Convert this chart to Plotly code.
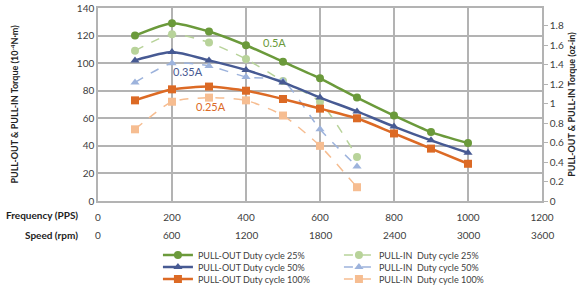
import plotly.graph_objects as go

freq_out = [100, 200, 300, 400, 500, 600, 700, 800, 900, 1000]
freq_in = [100, 200, 300, 400, 500, 600, 700]

pullout_25 = [120, 129, 123, 113, 101, 89, 75, 62, 50, 42]
pullout_50 = [102, 108, 102, 95, 86, 75, 65, 54, 44, 35]
pullout_100 = [73, 81, 83, 80, 74, 67, 60, 49, 38, 27]

pullin_25 = [109, 121, 115, 103, 87, 72, 32]
pullin_50 = [86, 100, 98, 90, 87, 52, 25]
pullin_100 = [52, 72, 75, 73, 62, 40, 10]

freq_ticks = [0, 200, 400, 600, 800, 1000, 1200]
speed_ticks = [0, 600, 1200, 1800, 2400, 3000, 3600]

label_text = ["0.5A", "0.35A", "0.25A"]
label_x = [478, 242, 306]
label_y = [115, 94, 68.5]

NM_TO_OZIN = 141.6119  # oz-in per N·m

C_G, C_LG = "#6b9a3b", "#b8d39a"
C_B, C_LB = "#475a93", "#9db3dc"
C_O, C_LO = "#dc6a25", "#f6bd91"

FONT = "Lato"
TXT = "#404040"

fig = go.Figure()

series = [
    ("PULL-OUT Duty cycle 25%", freq_out, pullout_25, C_G, "circle", "solid", 2.5, "legend"),
    ("PULL-IN  Duty cycle 25%", freq_in, pullin_25, C_LG, "circle", "dash", 1.5, "legend"),
    ("PULL-OUT Duty cycle 50%", freq_out, pullout_50, C_B, "triangle-up", "solid", 2.5, "legend2"),
    ("PULL-IN  Duty cycle 50%", freq_in, pullin_50, C_LB, "triangle-up", "dash", 1.5, "legend2"),
    ("PULL-OUT Duty cycle 100%", freq_out, pullout_100, C_O, "square", "solid", 2.5, "legend3"),
    ("PULL-IN  Duty cycle 100%", freq_in, pullin_100, C_LO, "square", "dash", 1.5, "legend3"),
]
order = [1, 3, 5, 0, 2, 4]
for i in order:
    name, xs, ys, col, sym, dash, w, leg = series[i]
    fig.add_trace(go.Scatter(
        x=xs, y=ys, name=name, mode="lines+markers",
        line=dict(color=col, width=w, dash=dash, shape="spline", smoothing=0.6),
        marker=dict(color=col, symbol=sym, size=8),
        legend=leg, legendrank=i + 1,
    ))

fig.add_trace(go.Scatter(x=[0], y=[0], yaxis="y2", showlegend=False,
                         mode="markers", marker=dict(opacity=0), hoverinfo="skip"))

grid = "#b3b3b3"


def leg(ytop):
    return dict(orientation="h", x=0.135, y=ytop, xanchor="left", yanchor="top",
                entrywidth=136, entrywidthmode="pixels", traceorder="normal",
                font=dict(size=9, color=TXT), bgcolor="rgba(0,0,0,0)")


fig.update_layout(
    width=577, height=290,
    margin=dict(l=98, r=35, t=8, b=89, autoexpand=False),
    paper_bgcolor="white", plot_bgcolor="white",
    font=dict(family=FONT, size=10, color=TXT),
    showlegend=True,
    legend=leg(-0.205), legend2=leg(-0.267), legend3=leg(-0.329),
    xaxis=dict(range=[0, 1200], tickvals=freq_ticks, ticktext=[str(v) for v in freq_ticks],
               showgrid=True, gridcolor=grid, gridwidth=1.5, zeroline=False,
               showline=True, linecolor=grid, linewidth=1.5, mirror=True,
               ticks="", ticklabelstandoff=6, tickfont=dict(size=10, color=TXT)),
    yaxis=dict(range=[0, 140], dtick=20, showgrid=True, gridcolor=grid, gridwidth=1.5,
               zeroline=False, showline=True, linecolor=grid, linewidth=1.5,
               ticks="", tickfont=dict(size=10, color=TXT)),
    yaxis2=dict(range=[0, 140 * NM_TO_OZIN * 1e-4], dtick=0.2, overlaying="y", side="right",
                showgrid=False, zeroline=False, showline=True, linecolor=grid, linewidth=1.5,
                ticks="outside", ticklen=4, tickcolor=grid, tickfont=dict(size=10, color=TXT)),
)

ann = []
for t, x, y, c in zip(label_text, label_x, label_y, [C_G, C_B, C_O]):
    ann.append(dict(x=x, y=y, xref="x", yref="y", text=t, showarrow=False,
                    font=dict(size=11, color=c, family=FONT)))
for f, s in zip(freq_ticks, speed_ticks):
    ann.append(dict(x=f, y=-0.175, xref="x", yref="paper", text=str(s), showarrow=False,
                    font=dict(size=10, color=TXT), yanchor="middle"))
ann.append(dict(x=-0.04, y=-0.072, xref="paper", yref="paper", text="<b>Frequency (PPS)</b>",
                showarrow=False, xanchor="right", yanchor="middle", font=dict(size=10, color="#222")))
ann.append(dict(x=-0.04, y=-0.175, xref="paper", yref="paper", text="<b>Speed (rpm)</b>",
                showarrow=False, xanchor="right", yanchor="middle", font=dict(size=10, color="#222")))
ann.append(dict(x=-0.189, y=0.5, xref="paper", yref="paper",
                text="<b>PULL-OUT & PULL-IN Torque (10<sup>-4</sup>N·m)</b>",
                showarrow=False, textangle=-90, xanchor="center", yanchor="middle",
                font=dict(size=9, color="#222")))
ann.append(dict(x=1.066, y=0.5, xref="paper", yref="paper",
                text="<b>PULL-OUT & PULL-IN Torque (oz-in)</b>",
                showarrow=False, textangle=-90, xanchor="center", yanchor="middle",
                font=dict(size=9, color="#222")))
fig.update_layout(annotations=ann)

fig.write_html("out.html", config={"displayModeBar": False},
               post_script="document.body.style.margin='0';")
